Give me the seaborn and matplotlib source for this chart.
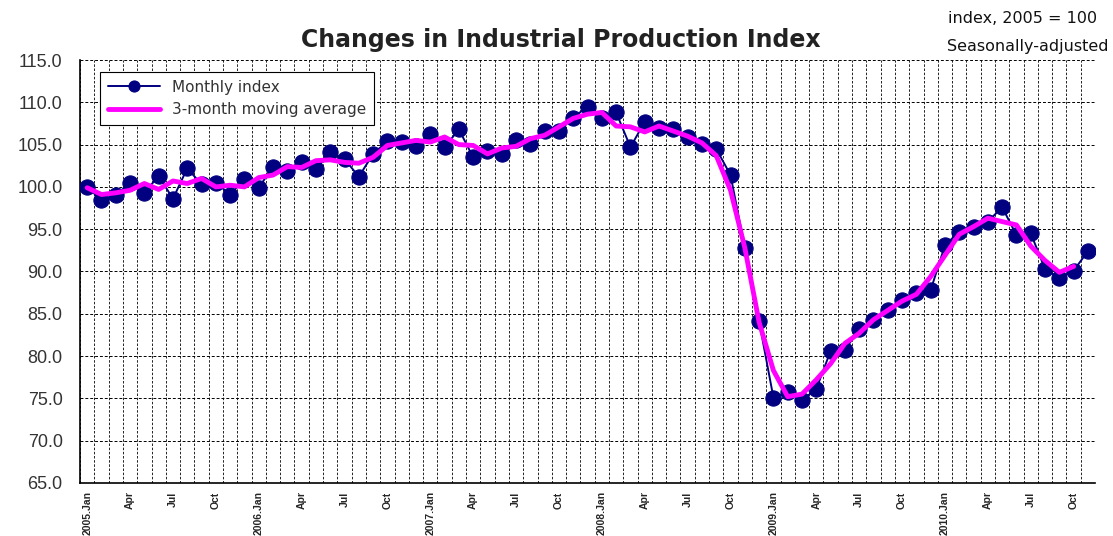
import numpy as np
import pandas as pd
import seaborn as sns
import matplotlib.pyplot as plt
from matplotlib.ticker import FormatStrFormatter

# Monthly index, 2005.Jan - 2010.Nov
monthly_index = [
    100.0, 98.4, 99.0, 100.5, 99.3, 101.3, 98.6, 102.2, 100.3, 100.5, 99.1, 100.9,
    99.9, 102.4, 101.9, 103.0, 102.1, 104.1, 103.3, 101.2, 103.9, 105.4, 105.3, 104.8,
    106.3, 104.7, 106.8, 103.5, 104.3, 103.9, 105.5, 105.1, 106.6, 106.6, 108.2, 109.5,
    108.2, 108.8, 104.7, 107.7, 107.0, 106.9, 105.9, 105.1, 104.5, 101.4, 92.8, 84.1,
    75.1, 75.7, 74.8, 76.1, 80.6, 80.7, 83.2, 84.3, 85.4, 86.6, 87.4, 87.8,
    93.1, 94.7, 95.3, 95.9, 97.6, 94.3, 94.5, 90.3, 89.2, 90.1, 92.4,
]

# 3-month moving average, 2005.Jan - 2010.Oct
moving_avg = [
    99.9, 99.1, 99.3, 99.6, 100.4, 99.7, 100.7, 100.4, 101.0, 100.0, 100.2, 100.0,
    101.1, 101.4, 102.4, 102.3, 103.1, 103.2, 102.9, 102.8, 103.5, 104.9, 105.2, 105.5,
    105.3, 105.9, 105.0, 104.9, 103.9, 104.6, 104.8, 105.7, 106.1, 107.1, 108.1, 108.6,
    108.8, 107.2, 107.1, 106.5, 107.2, 106.6, 106.0, 105.2, 103.7, 99.6, 92.8, 84.0,
    78.3, 75.2, 75.5, 77.2, 79.1, 81.5, 82.7, 84.3, 85.4, 86.5, 87.3, 89.4,
    91.9, 94.4, 95.3, 96.3, 95.9, 95.5, 93.0, 91.3, 89.9, 90.6,
]

tick_labels = [
    "2005.Jan", "Apr", "Jul", "Oct",
    "2006.Jan", "Apr", "Jul", "Oct",
    "2007.Jan", "Apr", "Jul", "Oct",
    "2008.Jan", "Apr", "Jul", "Oct",
    "2009.Jan", "Apr", "Jul", "Oct",
    "2010.Jan", "Apr", "Jul", "Oct",
]

sns.set_style("white")
plt.rcParams['font.family'] = ['DejaVu Sans']

df_m = pd.DataFrame({"month": np.arange(len(monthly_index)), "value": monthly_index})
df_a = pd.DataFrame({"month": np.arange(len(moving_avg)), "value": moving_avg})

fig = plt.figure(figsize=(11.13, 5.36), dpi=100)
ax = fig.add_axes([0.0719, 0.099, 0.912, 0.789])

sns.lineplot(data=df_m, x="month", y="value", ax=ax, color="#000080", lw=1.4,
             marker="o", markersize=11, markeredgecolor="#000080",
             label="Monthly index", zorder=3)
sns.lineplot(data=df_a, x="month", y="value", ax=ax, color="#FF00FF", lw=3.5,
             label="3-month moving average", zorder=4)

ax.set_xlim(-0.5, len(monthly_index) - 0.5)
ax.set_ylim(65, 115)
ax.set_xlabel("")
ax.set_ylabel("")

# y axis
ax.set_yticks(np.arange(65, 115.1, 5))
ax.yaxis.set_major_formatter(FormatStrFormatter("%.1f"))
for lab in ax.get_yticklabels():
    lab.set_fontfamily("Liberation Sans")
    lab.set_fontsize(13)
    lab.set_color("#333333")
ax.tick_params(axis="y", which="major", direction="inout", length=5, width=0.8,
               color="black", pad=10)

# x axis: labels at category centers, ticks at boundaries
ax.set_xticks(np.arange(0, len(monthly_index), 3))
ax.set_xticklabels(tick_labels, rotation=90, fontsize=7.5, fontweight="bold",
                   fontfamily="Liberation Sans")
ax.set_xticks(np.arange(-0.5, len(monthly_index), 1), minor=True)
ax.tick_params(axis="x", which="major", length=0, pad=6)
ax.tick_params(axis="x", which="minor", direction="out", length=3, width=0.8,
               color="black")

# grid
ax.grid(which="major", axis="y", ls="--", color="black", lw=0.7, dashes=(3, 2))
ax.grid(which="minor", axis="x", ls="--", color="black", lw=0.6, dashes=(3, 2))
ax.grid(which="major", axis="x", visible=False)

for side in ["top", "right"]:
    ax.spines[side].set_visible(False)
for side in ["left", "bottom"]:
    ax.spines[side].set_color("black")
    ax.spines[side].set_linewidth(1.2)

leg = ax.legend(loc="upper left", bbox_to_anchor=(0.0197, 0.972), borderaxespad=0,
                fontsize=11, handlelength=3.4, frameon=True, fancybox=False,
                edgecolor="black", framealpha=1, borderpad=0.5, labelspacing=0.5)
leg.get_frame().set_linewidth(0.8)
leg.legend_handles[0].set_markersize(8)
for t in leg.get_texts():
    t.set_color("#333333")

fig.text(0.504, 0.925, "Changes in Industrial Production Index", ha="center",
         va="center", fontsize=17, fontweight="bold", color="#222222")
fig.text(0.986, 0.965, "index, 2005 = 100", ha="right", va="center", fontsize=11.5,
         color="#111111")
fig.text(0.996, 0.913, "Seasonally-adjusted", ha="right", va="center", fontsize=11.5,
         color="#111111")

fig.savefig("out.png", dpi=100)
